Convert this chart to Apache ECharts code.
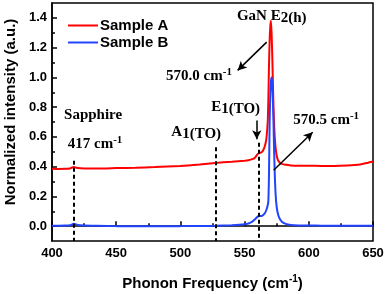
<!DOCTYPE html>
<html><head><meta charset="utf-8">
<script src="https://cdn.jsdelivr.net/npm/echarts@6/dist/echarts.min.js"></script>
<style>html,body{margin:0;padding:0;background:#fff}#c{width:386px;height:294px}</style>
</head><body><div id="c"></div>
<script>
const freq = [400,405,410,414,417,420,425,435,450,465,480,500,515,527,540,550,553,556,558,560,561.5,563,564.5,566,567,568,568.5,569,569.5,570,570.5,571,571.5,572,572.5,573,573.7,574.5,575.5,577,579,582,586,592,600,610,620,630,640,645,650];
const sampleA = [0.385,0.384,0.385,0.388,0.398,0.39,0.387,0.387,0.39,0.393,0.397,0.405,0.415,0.425,0.433,0.44,0.443,0.45,0.46,0.482,0.492,0.495,0.51,0.545,0.59,0.70,0.85,1.08,1.25,1.34,1.38,1.30,1.16,0.98,0.80,0.68,0.57,0.50,0.455,0.43,0.418,0.412,0.408,0.406,0.406,0.405,0.405,0.408,0.415,0.424,0.435];
const sampleB = [0.003,0.003,0.004,0.006,0.016,0.008,0.004,0.002,0.0,0.0,0.0,0.0,0.001,0.002,0.006,0.012,0.018,0.03,0.045,0.062,0.068,0.068,0.075,0.09,0.11,0.14,0.17,0.35,0.70,0.88,0.97,1.00,0.96,0.86,0.70,0.50,0.30,0.17,0.10,0.055,0.03,0.015,0.008,0.005,0.004,0.003,0.003,0.002,0.002,0.002,0.002];
const seriesNames = ['Sample A','Sample B'];
const yTicks = [0,0.2,0.4,0.6,0.8,1.0,1.2,1.4];
const yMinorTicks = [0.1,0.3,0.5,0.7,0.9,1.1,1.3];

const SANS = "'Liberation Sans', Arial, sans-serif";
const SERIF = "'Liberation Serif', 'Times New Roman', serif";
const annRich = {
  n: {fontFamily: SERIF, fontWeight: 'bold', fontSize: 15, color: '#000', lineHeight: 16},
  m: {fontFamily: SERIF, fontWeight: 'bold', fontSize: 15, color: '#000', lineHeight: 16, padding: [3,0,0,0]},
  s: {fontFamily: SERIF, fontWeight: 'bold', fontSize: 11, color: '#000', lineHeight: 11, verticalAlign: 'top'},
  a: {fontFamily: SERIF, fontWeight: 'bold', fontSize: 15, color: '#000', lineHeight: 16, verticalAlign: 'top'},
  b: {fontFamily: SERIF, fontWeight: 'bold', fontSize: 15, color: '#000', lineHeight: 16, padding: [3,0,0,0]}
};
function ann(x, y, text) {
  return {coord: [x, y], value: 0, label: {formatter: text}};
}

const chart = echarts.init(document.getElementById('c'));
chart.setOption({
  animation: false,
  grid: {left: 52, right: 13, top: 3, bottom: 53, containLabel: false, outerBoundsMode: 'none',
    show: true, borderColor: '#000', borderWidth: 1.5, backgroundColor: 'transparent'},
  legend: {
    data: seriesNames, orient: 'vertical', left: 63, top: 13, icon: 'rect', itemWidth: 30, itemHeight: 2, itemGap: 2,
    textStyle: {fontFamily: SANS, fontWeight: 'bold', fontSize: 15, color: '#000', padding: [0,0,0,-3]}
  },
  xAxis: {
    type: 'value', min: 400, max: 650, interval: 50,
    name: '{m|Phonon Frequency (cm}{s|-1}{m|)}', nameLocation: 'middle', nameGap: 33,
    nameTextStyle: {rich: {
      m: {fontFamily: SANS, fontWeight: 'bold', fontSize: 15, color: '#000', lineHeight: 16, padding: [3,0,0,0]},
      s: {fontFamily: SANS, fontWeight: 'bold', fontSize: 10, color: '#000', lineHeight: 10, verticalAlign: 'top'}
    }},
    axisLine: {lineStyle: {color: '#000', width: 1.5}},
    axisTick: {inside: true, length: 5, lineStyle: {color: '#000', width: 1.5}},
    minorTick: {show: true, splitNumber: 2, length: 3, lineStyle: {color: '#000', width: 1.5}},
    axisLabel: {margin: 6, fontFamily: SANS, fontWeight: 'bold', fontSize: 13, color: '#000'},
    splitLine: {show: false}, minorSplitLine: {show: false}
  },
  yAxis: [{
    type: 'value', min: -0.1, max: 1.5,
    name: 'Normalized intensity (a.u.)', nameLocation: 'middle', nameGap: 34,
    nameTextStyle: {fontFamily: SANS, fontWeight: 'bold', fontSize: 15, color: '#000', padding: [0,0,0,20]},
    axisLine: {lineStyle: {color: '#000', width: 1.5}},
    axisTick: {inside: true, length: 5, customValues: yTicks, lineStyle: {color: '#000', width: 1.5}},
    axisLabel: {margin: 5, customValues: yTicks, formatter: v => v.toFixed(1), fontFamily: SANS, fontWeight: 'bold', fontSize: 13, color: '#000'},
    splitLine: {show: false}
  }, {
    type: 'value', min: -0.1, max: 1.5, position: 'left', offset: 0,
    axisLine: {show: false},
    axisTick: {show: true, inside: true, length: 3, customValues: yMinorTicks, lineStyle: {color: '#000', width: 1.5}},
    axisLabel: {show: false}, splitLine: {show: false}
  }],
  series: [{
    name: seriesNames[0], type: 'line', symbol: 'none', smooth: 0.2,
    data: freq.map((f, i) => [f, sampleA[i]]),
    lineStyle: {color: '#ff0000', width: 2}, itemStyle: {color: '#ff0000'},
    markLine: {
      silent: true, symbol: ['none', 'none'], label: {show: false},
      lineStyle: {color: '#000', width: 2, type: [4, 3]},
      data: [
        [{coord: [417, 0.44]}, {coord: [417, -0.1]}],
        [{coord: [527.5, 0.53]}, {coord: [527.5, -0.1]}],
        [{coord: [560.8, 0.56]}, {coord: [560.8, -0.1]}]
      ]
    },
    markPoint: {
      silent: true, symbol: 'circle', symbolSize: 0, itemStyle: {color: 'rgba(0,0,0,0)'},
      label: {show: true, position: 'inside', rich: annRich},
      data: [
        ann(432.0, 0.745, '{n|Sapphire}'),
        ann(433.5, 0.564, '{m|417 cm}{s|-1}'),
        ann(512.3, 0.63, '{a|A}{b|1(TO)}'),
        ann(543.0, 0.80, '{a|E}{b|1(TO)}'),
        ann(571.1, 1.41, '{a|GaN E}{b|2(h)}'),
        ann(514.5, 1.02, '{m|570.0 cm}{s|-1}'),
        ann(613.5, 0.725, '{m|570.5 cm}{s|-1}')
      ]
    }
  }, {
    name: seriesNames[1], type: 'line', symbol: 'none', smooth: 0.2,
    data: freq.map((f, i) => [f, sampleB[i]]),
    lineStyle: {color: '#2244ff', width: 2}, itemStyle: {color: '#2244ff'},
    markLine: {
      silent: true, symbol: ['none', 'arrow'], symbolSize: [7, 9], label: {show: false},
      lineStyle: {color: '#000', width: 1.5, type: 'solid'},
      data: [
        [{coord: [559.5, 0.71]}, {coord: [559.5, 0.584]}],
        [{coord: [567.2, 1.237]}, {coord: [544.6, 1.047]}],
        [{coord: [572.6, 0.376]}, {coord: [603, 0.631]}]
      ]
    }
  }]
});
</script></body></html>
